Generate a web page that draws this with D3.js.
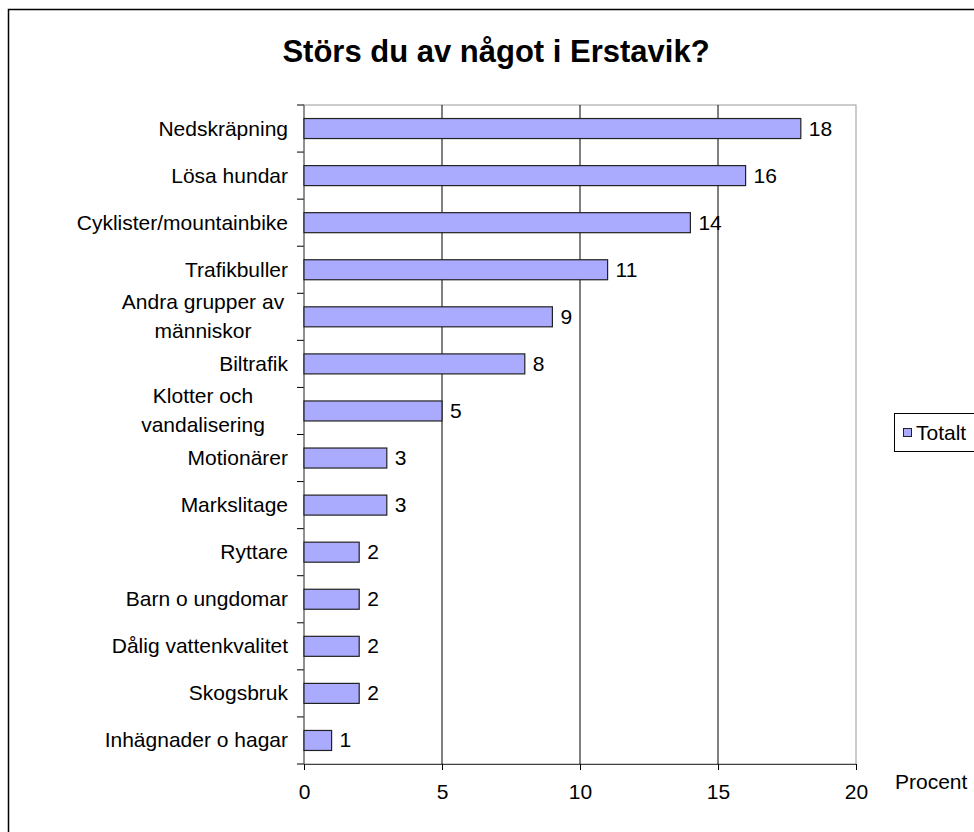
<!DOCTYPE html>
<html>
<head>
<meta charset="utf-8">
<script src="https://cdn.jsdelivr.net/npm/d3@7"></script>
<style>
  body { margin: 0; background: #fff; overflow: hidden; }
  text { font-family: Arial, "Liberation Sans", sans-serif; fill: #000; }
</style>
</head>
<body>
<div id="chart"></div>
<script>
// data
var categories = [
    ["Nedskräpning"],
    ["Lösa hundar"],
    ["Cyklister/mountainbike"],
    ["Trafikbuller"],
    ["Andra grupper av", "människor"],
    ["Biltrafik"],
    ["Klotter och", "vandalisering"],
    ["Motionärer"],
    ["Markslitage"],
    ["Ryttare"],
    ["Barn o ungdomar"],
    ["Dålig vattenkvalitet"],
    ["Skogsbruk"],
    ["Inhägnader o hagar"]
];
var values = [18, 16, 14, 11, 9, 8, 5, 3, 3, 2, 2, 2, 2, 1];
var xTicks = [0, 5, 10, 15, 20];
var seriesName = "Totalt";
var title = "Störs du av något i Erstavik?";
var axisTitle = "Procent";

var width = 974, height = 832;
var plotLeft = 304, plotRight = 856, plotTop = 105, plotBottom = 764;
var fontSize = "21px";

var svg = d3.select("#chart")
    .append("svg")
    .attr("width", width)
    .attr("height", height)
    .style("display", "block");

// outer frame, cut off at right and bottom
svg.append("rect")
    .attr("x", 8.5).attr("y", 9.5)
    .attr("width", 1000).attr("height", 1000)
    .attr("fill", "none")
    .attr("stroke", "#000")
    .attr("stroke-width", 1.5);

svg.append("text")
    .attr("x", 496)
    .attr("y", 62)
    .attr("text-anchor", "middle")
    .attr("font-size", "31px")
    .attr("font-weight", "bold")
    .text(title);

var x = d3.scaleLinear().domain([0, 20]).range([plotLeft, plotRight]);
var y = d3.scaleBand()
    .domain(d3.range(categories.length))
    .range([plotTop, plotBottom])
    .paddingInner(0.575)
    .paddingOuter(0.2875);

var yOuter = d3.scaleBand()
    .domain(d3.range(categories.length))
    .range([plotTop, plotBottom]);

// plot border
svg.append("rect")
    .attr("x", plotLeft).attr("y", plotTop)
    .attr("width", plotRight - plotLeft).attr("height", plotBottom - plotTop)
    .attr("fill", "none")
    .attr("stroke", "#999");

// gridlines
svg.selectAll(".grid")
    .data(xTicks.slice(1, -1))
    .enter()
    .append("line")
    .attr("class", "grid")
    .attr("x1", function (d) { return x(d); })
    .attr("x2", function (d) { return x(d); })
    .attr("y1", plotTop).attr("y2", plotBottom)
    .attr("stroke", "#000");

// x axis
var xAxis = svg.append("g")
    .attr("transform", "translate(0," + plotBottom + ")")
    .call(d3.axisBottom(x).tickValues(xTicks).tickSize(6).tickPadding(14));
xAxis.select(".domain").attr("stroke", "#444");
xAxis.selectAll(".tick line").attr("stroke", "#000");
xAxis.selectAll("text")
    .attr("font-size", fontSize)
    .attr("font-family", "Arial, 'Liberation Sans', sans-serif")
    .attr("fill", "#000");

// y axis ticks at band boundaries
var bounds = d3.range(categories.length + 1).map(function (i) { return plotTop + i * yOuter.step(); });
svg.selectAll(".ytick")
    .data(bounds)
    .enter()
    .append("line")
    .attr("x1", plotLeft - 7).attr("x2", plotLeft)
    .attr("y1", function (d) { return d; })
    .attr("y2", function (d) { return d; })
    .attr("stroke", "#000");
svg.append("line")
    .attr("x1", plotLeft).attr("x2", plotLeft)
    .attr("y1", plotTop).attr("y2", plotBottom)
    .attr("stroke", "#555");

// category labels
var lab = svg.selectAll(".cat")
    .data(categories)
    .enter()
    .append("text")
    .attr("class", "cat")
    .attr("font-size", fontSize)
    .attr("text-anchor", function (d) { return d.length > 1 ? "middle" : "end"; })
    .attr("transform", function (d, i) {
        var cy = yOuter(i) + yOuter.bandwidth() / 2;
        return "translate(" + (d.length > 1 ? 203 : 288) + "," + cy + ")";
    });
lab.each(function (d) {
    var t = d3.select(this);
    d.forEach(function (line, j) {
        t.append("tspan")
            .attr("x", 0)
            .attr("y", (j - (d.length - 1) / 2) * 29 + 7)
            .text(line);
    });
});

// bars
svg.selectAll(".bar")
    .data(values)
    .enter()
    .append("rect")
    .attr("class", "bar")
    .attr("x", x(0))
    .attr("y", function (d, i) { return y(i); })
    .attr("width", function (d) { return x(d) - x(0); })
    .attr("height", y.bandwidth())
    .attr("fill", "#aaaaff")
    .attr("stroke", "#222")
    .attr("stroke-width", 1.2);

// value labels
svg.selectAll(".val")
    .data(values)
    .enter()
    .append("text")
    .attr("class", "val")
    .attr("x", function (d) { return x(d) + 8; })
    .attr("y", function (d, i) { return y(i) + y.bandwidth() / 2 + 7; })
    .attr("font-size", fontSize)
    .text(function (d) { return d; });

// axis title
svg.append("text")
    .attr("x", 895)
    .attr("y", 789)
    .attr("font-size", fontSize)
    .text(axisTitle);

// legend
var legend = svg.append("g");
legend.append("rect")
    .attr("x", 894.5).attr("y", 413.5)
    .attr("width", 120).attr("height", 38)
    .attr("fill", "#fff")
    .attr("stroke", "#000");
legend.append("rect")
    .attr("x", 903.5).attr("y", 428.5)
    .attr("width", 8).attr("height", 8)
    .attr("fill", "#aaaaff")
    .attr("stroke", "#222");
legend.append("text")
    .attr("x", 916)
    .attr("y", 440)
    .attr("font-size", fontSize)
    .text(seriesName);
</script>
</body>
</html>
